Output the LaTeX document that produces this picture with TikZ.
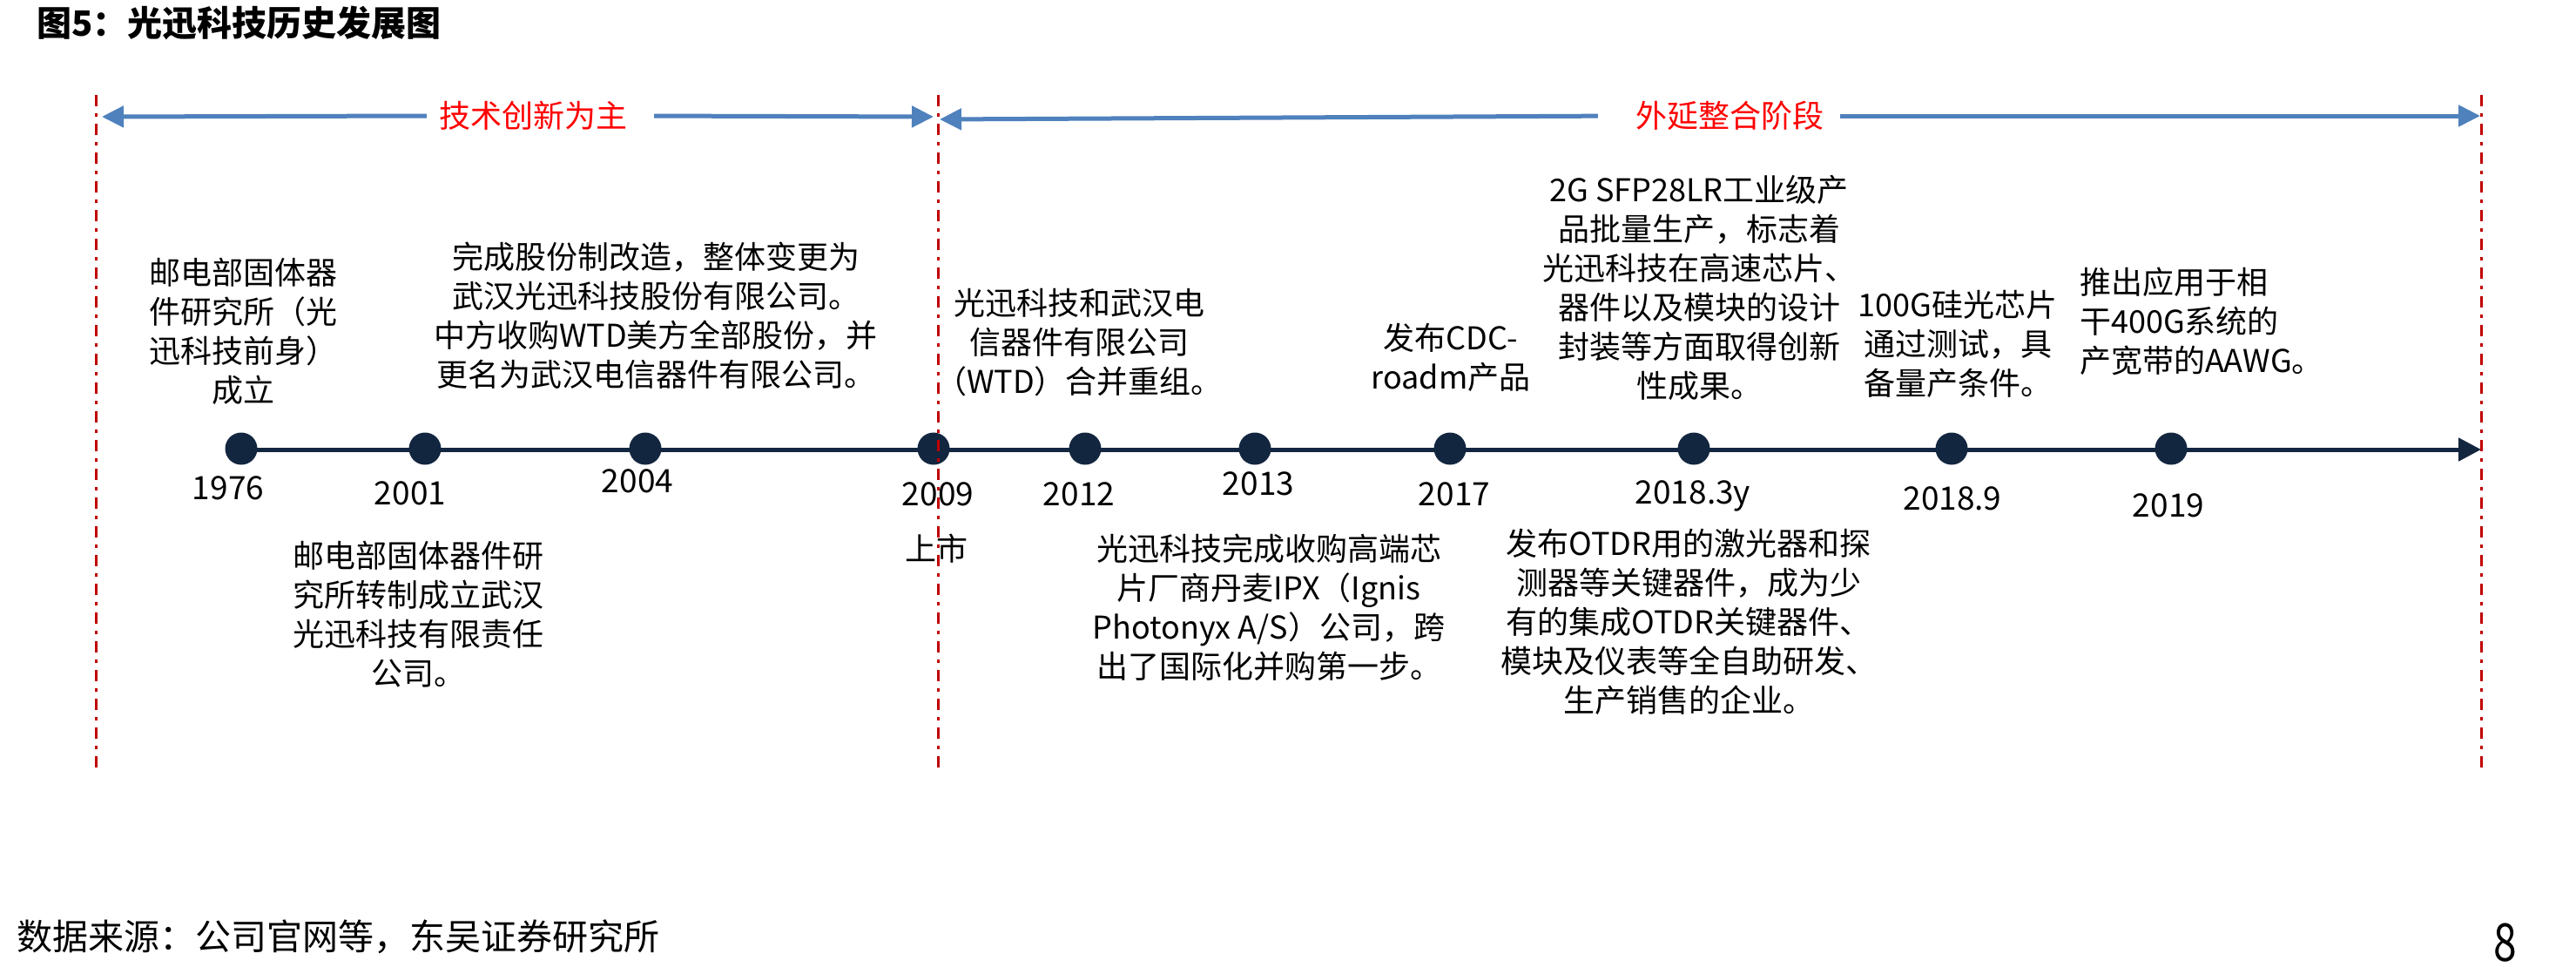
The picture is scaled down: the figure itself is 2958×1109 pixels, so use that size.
\documentclass[tikz,border=0pt]{standalone}
\usepackage{fontspec}
\setmainfont{Noto Sans CJK SC}
\usetikzlibrary{arrows.meta}
\definecolor{navy}{RGB}{19,38,64}
\definecolor{dred}{RGB}{192,0,0}
\definecolor{barblue}{RGB}{79,129,189}
\begin{document}
\begin{tikzpicture}[x=1pt,y=-1pt,
  body/.style={font=\fontsize{36}{45}\selectfont, align=center, inner sep=0pt, text=black},
  yearlbl/.style={font=\fontsize{37}{40}\selectfont, inner sep=0pt},
  dot/.style={circle, fill=navy, minimum size=37pt, inner sep=0pt},
  stage/.style={font=\fontsize{36}{40}\selectfont, text=red, inner xsep=14pt, inner ysep=0pt},
  barrow/.style={draw=barblue, line width=5pt, -{Triangle[length=25pt,width=24pt]}},
  vline/.style={draw=dred, line width=3pt, dash pattern=on 13pt off 8pt on 4pt off 8pt},
  tline/.style={draw=navy, line width=5pt, -{Triangle[length=26pt,width=26pt]}}
]
\fill[white] (0,0) rectangle (2958,1109);
\useasboundingbox (0,0) rectangle (2958,1109);

% title and footer
\node[anchor=west, inner sep=0pt, font=\fontsize{40}{48}\selectfont\bfseries] (title) at (42,26) {图5：光迅科技历史发展图};
\node[anchor=west, inner sep=0pt, font=\fontsize{41}{48}\selectfont] (src) at (19,1075) {数据来源：公司官网等，东吴证券研究所};
\node[inner sep=0pt, font=\fontsize{60}{62}\selectfont, xscale=0.8] (pg) at (2877,1082) {8};

% stage labels and arrows
\node[stage] (tA) at (612,133) {技术创新为主};
\node[stage] (tB) at (1986,133) {外延整合阶段};
\coordinate (tipA1) at (117,134);
\coordinate (tipA2) at (1072,134);
\coordinate (tipB1) at (1079,137);
\coordinate (tipB2) at (2848,133);
\draw[barrow] (tA.west) -- (tipA1);
\draw[barrow, shorten <=17pt] (tA.east) -- (tipA2);
\draw[barrow, shorten <=29pt] (tB.west) -- (tipB1);
\draw[barrow, shorten <=5pt] (tB.east) -- (tipB2);

% timeline
\coordinate (tlstart) at (277,516);
\coordinate (tlend) at (2849,516);
\draw[tline] (tlstart) -- (tlend);
\node[dot] (c1976) at (277,515) {};
\node[dot] (c2001) at (488,515) {};
\node[dot] (c2004) at (741,515) {};
\node[dot] (c2009) at (1072,515) {};
\node[dot] (c2012) at (1246,515) {};
\node[dot] (c2013) at (1441,515) {};
\node[dot] (c2017) at (1665,515) {};
\node[dot] (c2018a) at (1945,515) {};
\node[dot] (c2018b) at (2241,515) {};
\node[dot] (c2019) at (2493,515) {};

% year labels
\node[yearlbl] (y1976) at (262,560) {1976};
\node[yearlbl] (y2001) at (471,566) {2001};
\node[yearlbl] (y2004) at (732,552) {2004};
\node[yearlbl] (y2009) at (1077,567) {2009};
\node[body] (ss) at (1075,630) {上市};
\node[yearlbl] (y2012) at (1239,567) {2012};
\node[yearlbl] (y2013) at (1445,555) {2013};
\node[yearlbl] (y2017) at (1670,567) {2017};
\node[yearlbl] (y2018a) at (1944,569) {2018.3y};
\node[yearlbl] (y2018b) at (2242,572) {2018.9};
\node[yearlbl] (y2019) at (2490,580) {2019};

% event texts
\node[body] (eA) at (279,380) {邮电部固体器\\件研究所（光\\迅科技前身）\\成立};
\node[body] (eB) at (480,705) {邮电部固体器件研\\究所转制成立武汉\\光迅科技有限责任\\公司。};
\node[body] (eC) at (753,362) {完成股份制改造，整体变更为\\武汉光迅科技股份有限公司。\\中方收购WTD美方全部股份，并\\更名为武汉电信器件有限公司。};
\node[body] (eD) at (1239,393) {光迅科技和武汉电\\信器件有限公司\\（WTD）合并重组。};
\node[body] (eE) at (1666,410) {发布CDC-\\roadm产品};
\node[body] (eF) at (1457,697) {光迅科技完成收购高端芯\\片厂商丹麦IPX（Ignis\\Photonyx A/S）公司，跨\\出了国际化并购第一步。};
\node[body] (eG) at (1951,330) {2G SFP28LR工业级产\\品批量生产，标志着\\光迅科技在高速芯片、\\器件以及模块的设计\\封装等方面取得创新\\性成果。};
\node[body] (eH) at (2248,395) {100G硅光芯片\\通过测试，具\\备量产条件。};
\node[body, align=left, anchor=west] (eI) at (2388,369) {推出应用于相\\干400G系统的\\产宽带的AAWG。};
\node[body] (eJ) at (1939,714) {发布OTDR用的激光器和探\\测器等关键器件，成为少\\有的集成OTDR关键器件、\\模块及仪表等全自助研发、\\生产销售的企业。};

% phase boundaries
\coordinate (v1t) at (110,109); \coordinate (v1b) at (110,881);
\coordinate (v2t) at (1077,109); \coordinate (v2b) at (1077,881);
\coordinate (v3t) at (2849,109); \coordinate (v3b) at (2849,881);
\draw[vline] (v1t) -- (v1b);
\draw[vline] (v2t) -- (v2b);
\draw[vline] (v3t) -- (v3b);
\end{tikzpicture}
\end{document}
